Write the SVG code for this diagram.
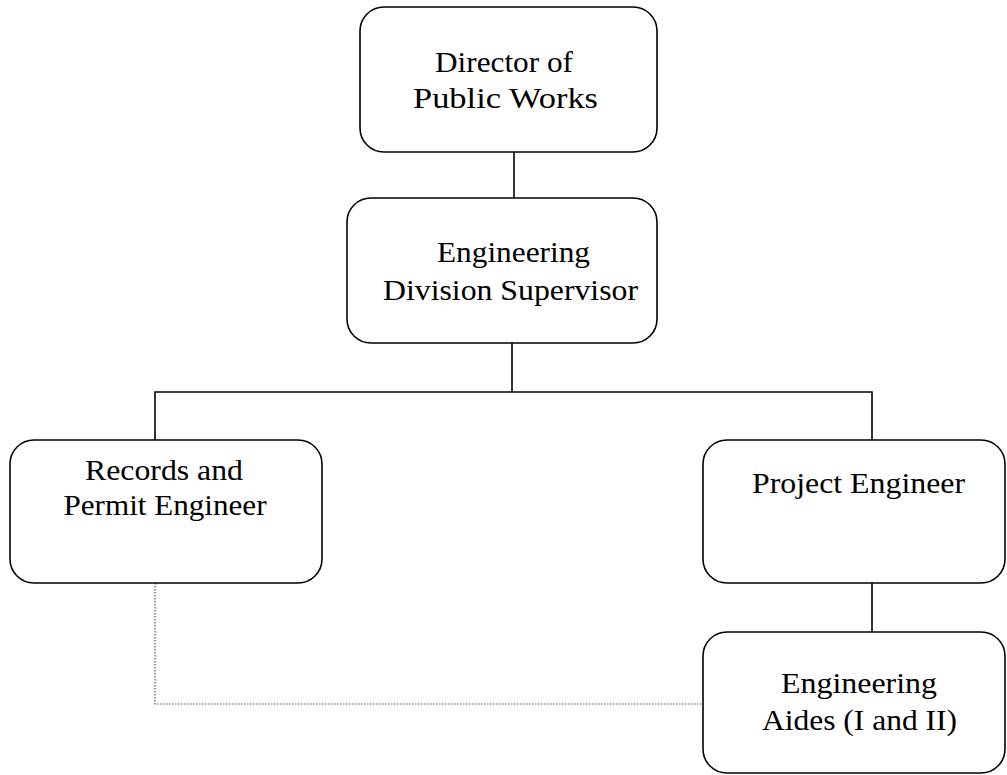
<svg xmlns="http://www.w3.org/2000/svg" width="1007" height="775" viewBox="0 0 1007 775">
<style>
.box{fill:#fff;stroke:#000;stroke-width:1.6}
.t{font-family:'Liberation Serif','Times New Roman',serif;font-size:30px;fill:#000;text-anchor:middle}
.ln{fill:none;stroke:#000;stroke-width:1.6}
.dot{fill:none;stroke:#555;stroke-width:1.2;stroke-dasharray:1.5 1.5}
</style>
<rect width="1007" height="775" fill="#fff"/>
<g id="connectors">
<line class="ln" x1="514" y1="152" x2="514" y2="198"/>
<polyline class="ln" points="512,343 512,392"/>
<polyline class="ln" points="155,440 155,392 872,392 872,440"/>
<line class="ln" x1="872" y1="583" x2="872" y2="632"/>
<polyline class="dot" points="155,583 155,704 703,704"/>
</g>
<g id="director">
<rect class="box" x="360" y="7" width="297" height="145" rx="24"/>
<text class="t" x="504" y="72" textLength="138" lengthAdjust="spacingAndGlyphs">Director of</text>
<text class="t" x="505.5" y="108" textLength="185" lengthAdjust="spacingAndGlyphs">Public Works</text>
</g>
<g id="supervisor">
<rect class="box" x="347" y="198" width="310" height="145" rx="24"/>
<text class="t" x="513.5" y="262" textLength="153" lengthAdjust="spacingAndGlyphs">Engineering</text>
<text class="t" x="510.5" y="300" textLength="255" lengthAdjust="spacingAndGlyphs">Division Supervisor</text>
</g>
<g id="records">
<rect class="box" x="10" y="440" width="312" height="143" rx="24"/>
<text class="t" x="164" y="480" textLength="158" lengthAdjust="spacingAndGlyphs">Records and</text>
<text class="t" x="165" y="515" textLength="203" lengthAdjust="spacingAndGlyphs">Permit Engineer</text>
</g>
<g id="project">
<rect class="box" x="703" y="440" width="302" height="143" rx="24"/>
<text class="t" x="858.5" y="493" textLength="213" lengthAdjust="spacingAndGlyphs">Project Engineer</text>
</g>
<g id="aides">
<rect class="box" x="703" y="632" width="302" height="141" rx="24"/>
<text class="t" x="859" y="693" textLength="156" lengthAdjust="spacingAndGlyphs">Engineering</text>
<text class="t" x="859.5" y="730" textLength="195" lengthAdjust="spacingAndGlyphs">Aides (I and II)</text>
</g>
</svg>
